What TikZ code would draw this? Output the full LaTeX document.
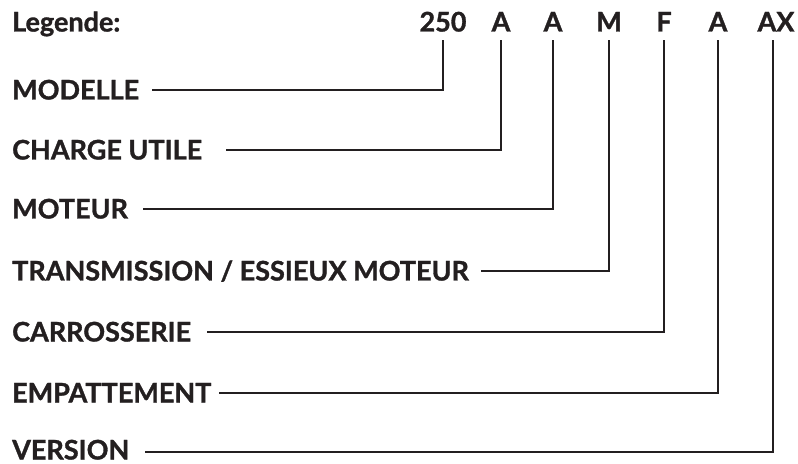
\documentclass[tikz,border=0pt]{standalone}
\usepackage{fontspec}
\setmainfont{Lato}[UprightFont=* Bold, UprightFeatures={FakeBold=1.2}]
\definecolor{ink}{HTML}{231F20}
\begin{document}
\begin{tikzpicture}[x=1bp,y=-1bp,
  lbl/.style={anchor=west,inner sep=0pt,text height=19bp,text depth=0pt,font=\fontsize{27bp}{30bp}\selectfont,text=ink},
  code/.style={anchor=center,inner sep=0pt,text height=19bp,text depth=0pt,font=\fontsize{27bp}{30bp}\selectfont,text=ink},
  conn/.style={draw=ink,line width=1.9bp}]
\useasboundingbox (0,0) rectangle (798,464);
\node[lbl] (leg) at (12,22) {Legende:};
\node[code] (c1) at (443,22) {250};
\node[code] (c2) at (501,22) {A};
\node[code] (c3) at (553,22) {A};
\node[code] (c4) at (609,22) {M};
\node[code] (c5) at (664,22) {F};
\node[code] (c6) at (718,22) {A};
\node[code] (c7) at (776,22) {AX};
\node[lbl] (r1) at (12,90) {MODELLE};
\node[lbl] (r2) at (12,150) {CHARGE UTILE};
\node[lbl] (r3) at (12,209) {MOTEUR};
\node[lbl] (r4) at (12,271) {TRANSMISSION / ESSIEUX MOTEUR};
\node[lbl] (r5) at (12,332) {CARROSSERIE};
\node[lbl] (r6) at (12,393) {EMPATTEMENT};
\node[lbl] (r7) at (12,450) {VERSION};
\coordinate (s1) at (152,90);
\coordinate (s2) at (226,150);
\coordinate (s3) at (143,209);
\coordinate (s4) at (481,271);
\coordinate (s5) at (207,332);
\coordinate (s6) at (219,393);
\coordinate (s7) at (145,452);
\coordinate (t1) at (443,40);
\coordinate (t2) at (501,40);
\coordinate (t3) at (553,40);
\coordinate (t4) at (609,40);
\coordinate (t5) at (664,40);
\coordinate (t6) at (718,40);
\coordinate (t7) at (773,40);
\foreach \i in {1,...,7}{\draw[conn] (s\i) -| (t\i);}
\end{tikzpicture}
\end{document}
